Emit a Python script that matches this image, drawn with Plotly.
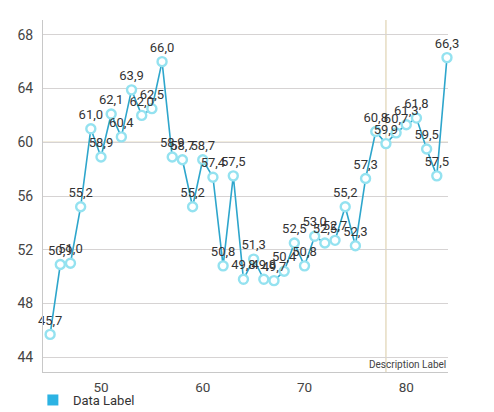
import plotly.graph_objects as go

# Series data
x_values = list(range(45, 85))
y_values = [45.7, 50.9, 51.0, 55.2, 61.0, 58.9, 62.1, 60.4, 63.9, 62.0,
            62.5, 66.0, 58.9, 58.7, 55.2, 58.7, 57.4, 50.8, 57.5, 49.8,
            51.3, 49.8, 49.7, 50.4, 52.5, 50.8, 53.0, 52.5, 52.7, 55.2,
            52.3, 57.3, 60.8, 59.9, 60.7, 61.3, 61.8, 59.5, 57.5, 66.3]
series_name = "Data Label"
description = "Description Label"
limit_y = 60
limit_x = 78

labels = [f"{v:.1f}".replace(".", ",") for v in y_values]

LINE_COLOR = "#2ea6cc"
CIRCLE_COLOR = "#94e2f0"
LIMIT_COLOR = "#e6dcc2"
GRID_COLOR = "#d6d3d3"
TEXT_COLOR = "#333333"

fig = go.Figure()

fig.add_trace(go.Scatter(
    x=x_values, y=y_values,
    mode="lines+markers+text",
    text=labels,
    textposition="top center",
    textfont=dict(family="Roboto", size=13, color=TEXT_COLOR),
    line=dict(color=LINE_COLOR, width=1.6),
    marker=dict(size=9, color="white", line=dict(color=CIRCLE_COLOR, width=2.4)),
    showlegend=False,
    cliponaxis=False,
))

# Legend entry: a filled square
fig.add_trace(go.Scatter(
    x=[None], y=[None], mode="markers", name=series_name,
    marker=dict(symbol="square", size=11, color="#2cb3e3"),
    showlegend=True,
))

fig.add_shape(type="line", xref="paper", yref="y", x0=0, x1=1, y0=limit_y, y1=limit_y,
              line=dict(color=LIMIT_COLOR, width=1.5), layer="below")
fig.add_shape(type="line", xref="x", yref="paper", x0=limit_x, x1=limit_x, y0=0, y1=1,
              line=dict(color=LIMIT_COLOR, width=1.5), layer="below")

fig.add_annotation(text=description, xref="paper", yref="paper", x=1, y=0,
                   xanchor="right", yanchor="bottom", yshift=0, showarrow=False,
                   font=dict(family="Roboto", size=10, color="#444444"))

fig.update_layout(
    width=494, height=412,
    margin=dict(l=43, r=46, t=20, b=40, autoexpand=False),
    paper_bgcolor="white", plot_bgcolor="white",
    font=dict(family="Roboto", size=13, color="#444444"),
    showlegend=True,
    legend=dict(orientation="h", x=-0.025, y=-0.037, xanchor="left", yanchor="top",
                font=dict(family="Roboto", size=13, color="#333333"),
                itemwidth=30, bgcolor="rgba(0,0,0,0)"),
    xaxis=dict(range=[44.3, 84.1], tickvals=[50, 60, 70, 80], showgrid=False,
               showline=True, linecolor="#c8c8c8", linewidth=1, zeroline=False,
               ticks="", ticklabelstandoff=3, tickfont=dict(size=13.5, color="#444444")),
    yaxis=dict(range=[42.9, 69.1], tickvals=[44, 48, 52, 56, 60, 64, 68],
               showgrid=True, gridcolor=GRID_COLOR, gridwidth=1,
               showline=True, linecolor="#c8c8c8", linewidth=1, zeroline=False,
               ticks="", ticklabelstandoff=6, tickfont=dict(size=14, color="#444444")),
)

fig.write_html("out.html")
